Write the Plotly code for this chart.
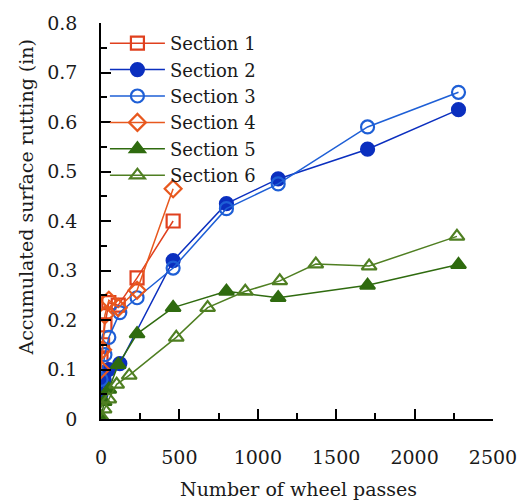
import plotly.graph_objects as go

names = ["Section 1", "Section 2", "Section 3", "Section 4", "Section 5", "Section 6"]

x1 = [0, 10, 25, 50, 110, 230, 460]
y1 = [0.12, 0.15, 0.19, 0.235, 0.23, 0.285, 0.40]

x2 = [0, 20, 50, 120, 460, 800, 1130, 1700, 2280]
y2 = [0.05, 0.08, 0.10, 0.112, 0.32, 0.435, 0.485, 0.545, 0.625]

x3 = [0, 25, 50, 120, 230, 460, 800, 1130, 1700, 2280]
y3 = [0.08, 0.13, 0.165, 0.215, 0.245, 0.305, 0.425, 0.475, 0.59, 0.66]

x4 = [0, 10, 25, 50, 110, 230, 460]
y4 = [0.10, 0.14, 0.21, 0.24, 0.225, 0.26, 0.465]

x5 = [0, 20, 50, 110, 230, 460, 800, 1130, 1700, 2280]
y5 = [0.0, 0.035, 0.06, 0.11, 0.172, 0.225, 0.258, 0.245, 0.27, 0.312]

x6 = [0, 20, 50, 100, 180, 480, 680, 920, 1140, 1370, 1710, 2270]
y6 = [0.005, 0.02, 0.04, 0.07, 0.088, 0.165, 0.225, 0.258, 0.279, 0.313, 0.309, 0.369]

xs = [x1, x2, x3, x4, x5, x6]
ys = [y1, y2, y3, y4, y5, y6]
colors = ["#e0401e", "#0b2fbf", "#1e5fd6", "#e8581e", "#2f6b0f", "#4f7f22"]
symbols = ["square-open", "circle", "circle-open", "diamond-open", "triangle-up", "triangle-up-open"]
sizes = [13, 13, 13, 13, 13, 13]

fig = go.Figure()
for n, x, y, c, s, sz in zip(names, xs, ys, colors, symbols, sizes):
    fig.add_trace(go.Scatter(
        x=x, y=y, name=n, mode="lines+markers",
        line=dict(color=c, width=1.5),
        marker=dict(symbol=s, size=sz, color=c, line=dict(color=c, width=2.2)),
    ))

font = "DejaVu Serif"
fig.update_layout(
    width=529, height=504,
    margin=dict(l=101, r=29, t=20, b=85),
    paper_bgcolor="white", plot_bgcolor="white",
    font=dict(family=font, size=19, color="#1a1a1a"),
    showlegend=True,
    legend=dict(x=0.01, y=0.995, xanchor="left", yanchor="top",
                bgcolor="rgba(0,0,0,0)", font=dict(family=font, size=18, color="#1a1a1a"),
                tracegroupgap=0, itemwidth=55),
    xaxis=dict(range=[0, 2500], dtick=500, tick0=0, ticks="inside", ticklen=10,
               tickwidth=1.5, tickcolor="black", showline=True, linecolor="black",
               linewidth=1.5, showgrid=False, zeroline=False,
               ticklabelstandoff=20,
               minor=dict(dtick=250, ticks="inside", ticklen=6, tickcolor="black", tickwidth=1.5),
               tickfont=dict(family=font, size=19, color="#1a1a1a")),
    yaxis=dict(range=[0, 0.8], dtick=0.1, tick0=0, ticks="inside", ticklen=10,
               tickwidth=1.5, tickcolor="black", showline=True, linecolor="black",
               linewidth=1.5, showgrid=False, zeroline=False,
               ticklabelstandoff=18,
               minor=dict(dtick=0.05, ticks="inside", ticklen=6, tickcolor="black", tickwidth=1.5),
               tickfont=dict(family=font, size=19, color="#1a1a1a")),
    annotations=[
        dict(text="Number of wheel passes", xref="paper", yref="paper",
             x=0.504, y=-0.178, xanchor="center", yanchor="middle", showarrow=False,
             font=dict(family=font, size=19, color="#1a1a1a")),
        dict(text="Accumulated surface rutting (in)", xref="paper", yref="paper",
             x=-0.192, y=0.561, xanchor="center", yanchor="middle", showarrow=False,
             textangle=-90, font=dict(family=font, size=19, color="#1a1a1a")),
    ],
)

fig.write_html("out.html")
